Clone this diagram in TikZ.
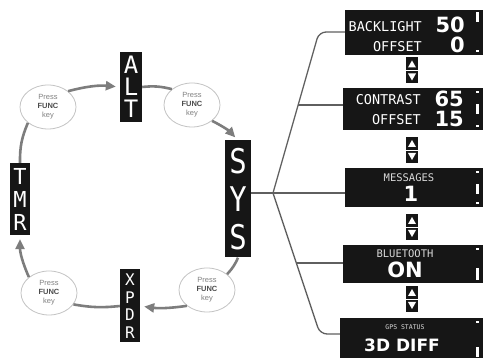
\documentclass[tikz,border=0pt]{standalone}
\usepackage{fontspec}
\usepackage{tikz}
\usetikzlibrary{positioning,arrows.meta,calc,shapes.geometric}
\newfontfamily\lcdfont{DejaVu Sans Mono}
\newfontfamily\lcdbold{DejaVu Sans}
\newfontfamily\sysfont[FakeStretch=0.85]{DejaVu Sans Mono}
\newfontfamily\keyfont{Liberation Sans}
\definecolor{lcdblack}{RGB}{22,22,22}
\definecolor{loopgray}{RGB}{125,125,125}
\definecolor{ovalgray}{RGB}{195,195,195}
\definecolor{wiregray}{RGB}{95,95,95}
\tikzset{
  modebox/.style={fill=lcdblack, text=white, inner sep=0pt, align=center,
                  font=\lcdfont\fontsize{24}{22}\selectfont},
  oval/.style={ellipse, draw=ovalgray, line width=0.8pt, fill=white, minimum width=56,
               minimum height=44, inner sep=0pt, align=center, text=black!50,
               font=\keyfont\fontsize{7.5}{9}\selectfont},
  loopline/.style={draw=loopgray, line width=2.6pt},
  looparrow/.style={-{Triangle[length=10pt,width=9pt]}, shorten >=4pt},
  screen/.style={fill=lcdblack, inner sep=0pt, minimum width=138},
  lcdsmall/.style={text=white, inner sep=0pt, font=\lcdfont\fontsize{13.5}{13.5}\selectfont},
  lcdtiny/.style={text=white!85!black, inner sep=0pt, font=\lcdfont\fontsize{10.5}{10.5}\selectfont},
  lcdnum/.style={text=white, inner sep=0pt, font=\lcdbold\bfseries\fontsize{21}{21}\selectfont},
  wire/.style={draw=wiregray, line width=1.3pt}
}

\begin{document}
\begin{tikzpicture}[x=1pt, y=-1pt]
\useasboundingbox (0,0) rectangle (483,358);
% mode boxes
\node[modebox, minimum width=22, minimum height=70] (alt) at (131,87) {A\\L\\T};
\node[modebox, minimum width=20, minimum height=72, font=\lcdfont\fontsize{22}{23}\selectfont] (tmr) at (20,199) {T\\M\\R};
\node[modebox, minimum width=26, minimum height=117, font=\sysfont\fontsize{34}{38}\selectfont] (sys) at (238,199) {S\\Y\\S};
\node[modebox, minimum width=20, minimum height=73, font=\lcdfont\fontsize{16}{17.5}\selectfont] (xpdr) at (130,306) {X\\P\\D\\R};
% press func key ovals
\node[oval] (ovtl) at (48,107) {Press\\{\bfseries\color{black!70}FUNC}\\key};
\node[oval] (ovtr) at (192,105) {Press\\{\bfseries\color{black!70}FUNC}\\key};
\node[oval] (ovbr) at (207,290) {Press\\{\bfseries\color{black!70}FUNC}\\key};
\node[oval] (ovbl) at (49,293) {Press\\{\bfseries\color{black!70}FUNC}\\key};
% loop
\draw[loopline] (tmr.north) to[bend left=12] (ovtl.south west);
\draw[loopline, looparrow] (ovtl.north east) to[bend left=10] (alt.west);
\draw[loopline] (alt.east) to[bend left=10] (ovtr.north west);
\draw[loopline, looparrow] (ovtr.south east) to[bend left=10] (sys.north);
\draw[loopline] (sys.south) to[bend left=10] (ovbr.north east);
\draw[loopline, looparrow] (ovbr.south west) to[bend left=8] (xpdr.east);
\draw[loopline] (xpdr.west) to[bend left=8] (ovbl.-25);
\draw[loopline, looparrow] (ovbl.north west) to[bend left=12] (tmr.south);
% screens
\node[screen, minimum height=45] (backlight) at (414,32.5) {};
\node[screen, minimum width=140, minimum height=42] (contrast) at (413,109) {};
\node[screen, minimum height=39] (messages) at (414,187.5) {};
\node[screen, minimum width=140, minimum height=38] (bluetooth) at (413,264) {};
\node[screen, minimum width=143, minimum height=40] (gpsstat) at (411.5,338) {};
\node[lcdsmall, anchor=base east] (bltxt) at (422,32) {BACKLIGHT};
\node[lcdsmall, anchor=base east] (bloff) at (422,52) {OFFSET};
\node[lcdnum, anchor=base east] (blval) at (465,33) {50};
\node[lcdnum, anchor=base east] (bloffval) at (465,53) {0};
\node[lcdsmall, anchor=base east] (cttxt) at (421,105) {CONTRAST};
\node[lcdsmall, anchor=base east] (ctoff) at (421,125) {OFFSET};
\node[lcdnum, anchor=base east] (ctval) at (464,107) {65};
\node[lcdnum, anchor=base east] (ctoffval) at (464,127) {15};
\node[lcdtiny, anchor=base] (msgtxt) at (409,182) {MESSAGES};
\node[lcdnum, anchor=base] (msgval) at (411,202) {1};
\node[lcdtiny, anchor=base] (bttxt) at (405,258) {BLUETOOTH};
\node[lcdnum, anchor=base] (btval) at (405,278) {ON};
\node[lcdtiny, anchor=base, font=\lcdfont\fontsize{6.5}{6.5}\selectfont] (gpstxt) at (405,330) {GPS STATUS};
\node[lcdnum, anchor=base, font=\lcdbold\bfseries\fontsize{17}{17}\selectfont] (gpsval) at (402,352) {3D DIFF};
% scroll bars
\foreach \s/\t in {backlight/0.12, contrast/0.45, messages/0.5, bluetooth/0.68, gpsstat/0.8}{
  \fill[white] ($(\s.north east)+(-7,3)$) rectangle +(3,2);
  \fill[white] ($(\s.south east)+(-7,-5)$) rectangle +(3,2);
  \fill[white] ($(\s.north east)!\t!(\s.south east)+(-7,-3)$) rectangle +(3,10);
}
% up/down keys
\foreach \c in {70.5,150,227,299}{
  \fill[lcdblack] (406,\c-13) rectangle (418,\c+13);
  \fill[white] (408,\c-3) -- (416,\c-3) -- (412,\c-10) -- cycle;
  \fill[white] (408,\c+3) -- (416,\c+3) -- (412,\c+10) -- cycle;
  \draw[white, line width=0.6pt] (406,\c) -- (418,\c);
}
% connectors
\coordinate (jn) at (273,193);
\coordinate (upc) at (319,32);
\coordinate (dnc) at (320,334);
\coordinate (ctfork) at ($(jn)!0.547!(upc)$);
\coordinate (btfork) at ($(jn)!0.496!(dnc)$);
\draw[wire] (sys.east |- jn) -- (messages.west |- jn);
\draw[wire, rounded corners=7] (backlight.west |- upc) -- (upc) -- (jn);
\draw[wire, rounded corners=7] (jn) -- (dnc) -- (gpsstat.west |- dnc);
\draw[wire] (ctfork) -- (contrast.west |- ctfork);
\draw[wire] (btfork) -- (bluetooth.west |- btfork);
\end{tikzpicture}
\end{document}
